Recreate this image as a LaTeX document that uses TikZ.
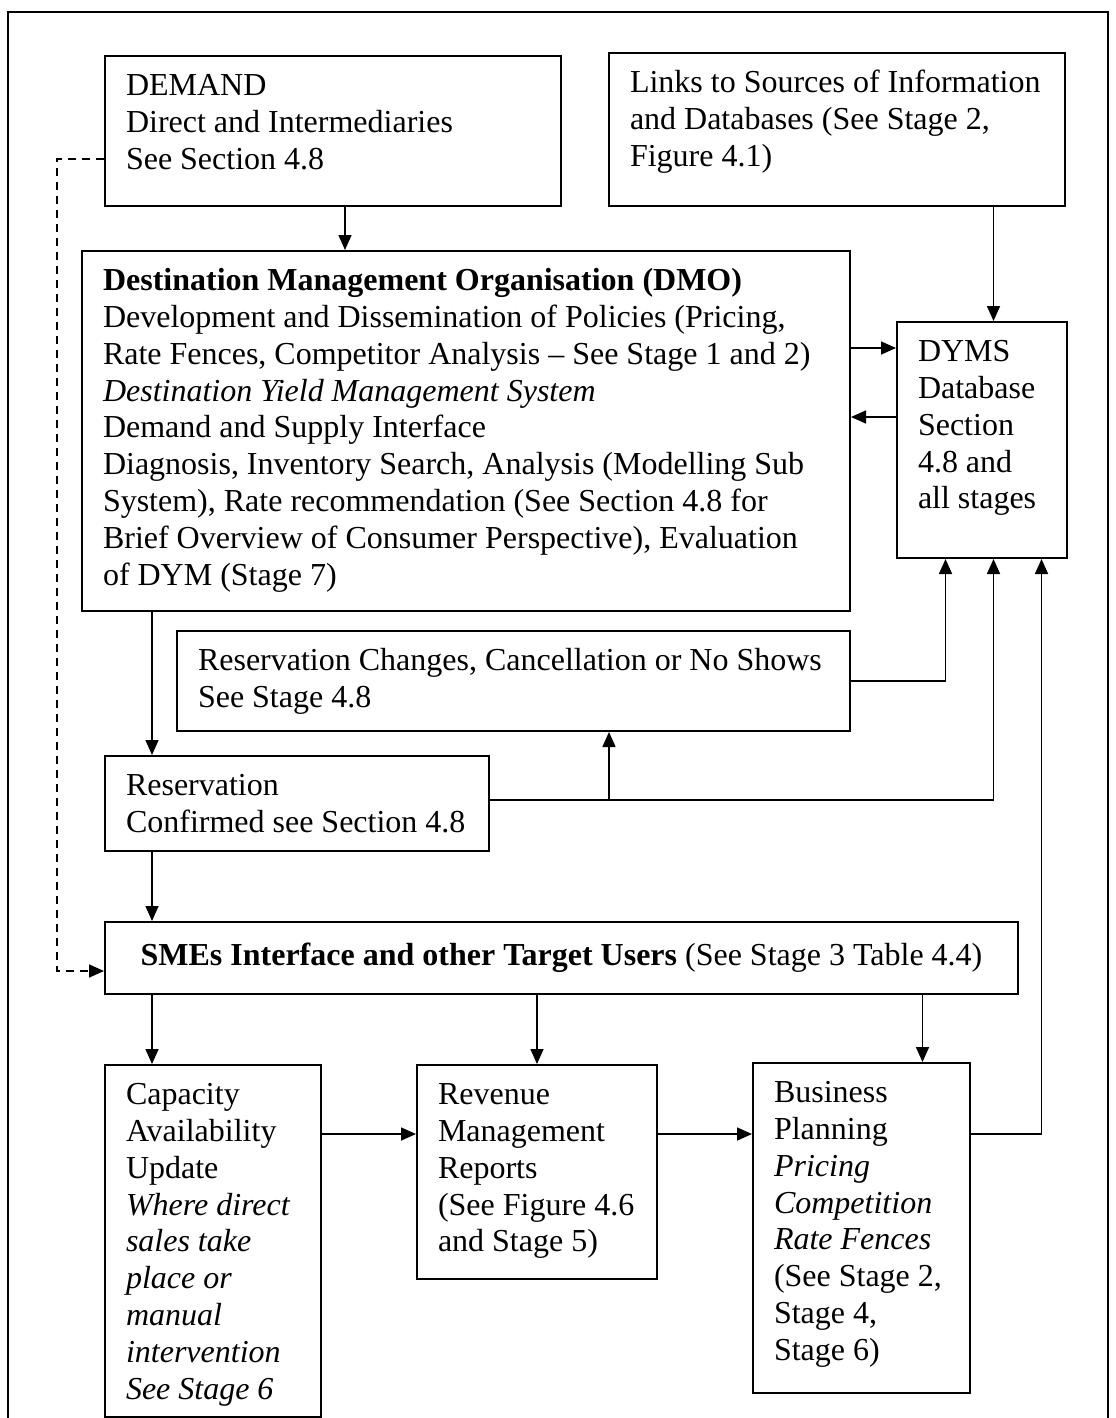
\documentclass[tikz,border=0pt]{standalone}
\usepackage{fontspec}
\setmainfont{Liberation Serif}
\usetikzlibrary{arrows.meta,calc}
\newcommand{\tbox}[3]{\parbox[t][\dimexpr #2pt/2-14pt\relax][t]{\dimexpr #1pt/2\relax}{\raggedright\leftskip=10.5pt\strut #3}}
\tikzset{
  box/.style={draw, line width=1pt, inner xsep=0pt, inner ysep=7pt, anchor=north west,
    font=\fontsize{16pt}{18.4pt}\selectfont},
  cbox/.style={draw, line width=1pt, inner sep=0pt, anchor=north west,
    font=\fontsize{16pt}{18.4pt}\selectfont},
  arr/.style={-{Triangle[length=7.5pt,width=6.5pt]}, line width=0.8pt},
  frame/.style={line width=1pt}
}
\begin{document}
\begin{tikzpicture}[x=0.5pt,y=-0.5pt]
\useasboundingbox (0,0) rectangle (1115,1418);
\draw[frame] (8,1420) -- (8,12) -- (1108,12) -- (1108,1420);

\node[box] (demand) at (104,55) {\tbox{456}{150}{DEMAND\\Direct and Intermediaries\\See Section 4.8}};
\node[box] (links) at (608,52) {\tbox{456}{153}{Links to Sources of Information\\and Databases (See Stage 2,\\Figure 4.1)}};
\node[box] (dmo) at (81,250) {\tbox{768}{360}{\textbf{Destination Management Organisation (DMO)}\\
Development and Dissemination of Policies (Pricing,\\
Rate Fences, Competitor Analysis -- See Stage 1 and 2)\\
\textit{Destination Yield Management System}\\
Demand and Supply Interface\\
Diagnosis, Inventory Search, Analysis (Modelling Sub\\
System), Rate recommendation (See Section 4.8 for\\
Brief Overview of Consumer Perspective), Evaluation\\
of DYM (Stage 7)}};
\node[box] (dyms) at (896,321) {\tbox{170}{236}{DYMS\\Database\\Section\\4.8 and\\all stages}};
\node[box] (resch) at (176,630) {\tbox{673}{100}{Reservation Changes, Cancellation or No Shows\\See Stage 4.8}};
\node[box] (resconf) at (104,755) {\tbox{384}{95}{Reservation\\Confirmed see Section 4.8}};
\node[cbox, minimum width=456.5pt, minimum height=36pt] (smes) at (104,921) {\textbf{SMEs Interface and other Target Users} (See Stage 3 Table 4.4)};
\node[box] (cap) at (104,1064) {\tbox{216}{352}{Capacity\\Availability\\Update\\\textit{Where direct\\sales take\\place or\\manual\\intervention\\See Stage 6}}};
\node[box] (rev) at (416,1064) {\tbox{240}{214}{Revenue\\Management\\Reports\\(See Figure 4.6\\and Stage 5)}};
\node[box] (bus) at (752,1062) {\tbox{217}{330}{Business\\Planning\\\textit{Pricing\\Competition\\Rate Fences}\\(See Stage 2,\\Stage 4,\\Stage 6)}};

% connectors
\coordinate (dT) at ([xshift=6pt]demand.south);
\draw[arr] (dT) -- (dT |- dmo.north);
\coordinate (yT) at ([xshift=5.75pt]dyms.north);
\draw[arr] (links.south -| yT) -- (yT);
\coordinate (yL1) at ([yshift=-13.5pt]dyms.north west);
\coordinate (yL2) at ([yshift=-48pt]dyms.north west);
\draw[arr] (dmo.east |- yL1) -- (yL1);
\draw[arr] (yL2) -- (dmo.east |- yL2);

\coordinate (rcT) at ([xshift=24pt]resconf.north west);
\draw[arr] (dmo.south -| rcT) -- (rcT);
\coordinate (rcB) at ([xshift=24pt]resconf.south west);
\draw[arr] (rcB) -- (smes.north -| rcB);

\coordinate (yB1) at ([xshift=-18.25pt]dyms.south);
\coordinate (yB2) at ([xshift=5.75pt]dyms.south);
\coordinate (yB3) at ([xshift=29.75pt]dyms.south);
\draw[arr] (resch.east) -| (yB1);
\coordinate (rcR) at ([yshift=1.75pt]resconf.east);
\draw[arr] (rcR) -| (yB2);
\coordinate (rsB) at ([xshift=47.75pt]resch.south);
\draw[arr] (rcR -| rsB) -- (rsB);

\coordinate (cT) at ([xshift=24pt]cap.north west);
\draw[arr] (smes.south -| cT) -- (cT);
\draw[arr] (smes.south -| rev.north) -- (rev.north);
\coordinate (bT) at ([xshift=30.5pt]bus.north);
\draw[arr] (smes.south -| bT) -- (bT);

\coordinate (cR) at ([yshift=-35pt]cap.north east);
\draw[arr] (cR) -- (rev.west |- cR);
\draw[arr] (rev.east |- cR) -- (bus.west |- cR);
\draw[arr] (bus.east |- cR) -| (yB3);

\coordinate (dL) at ([yshift=-14pt]demand.west);
\coordinate (sL) at ([yshift=-6.5pt]smes.west);
\draw[arr, dash pattern=on 4pt off 3pt] (dL) -- ++(-47,0) |- (sL);
\end{tikzpicture}
\end{document}
